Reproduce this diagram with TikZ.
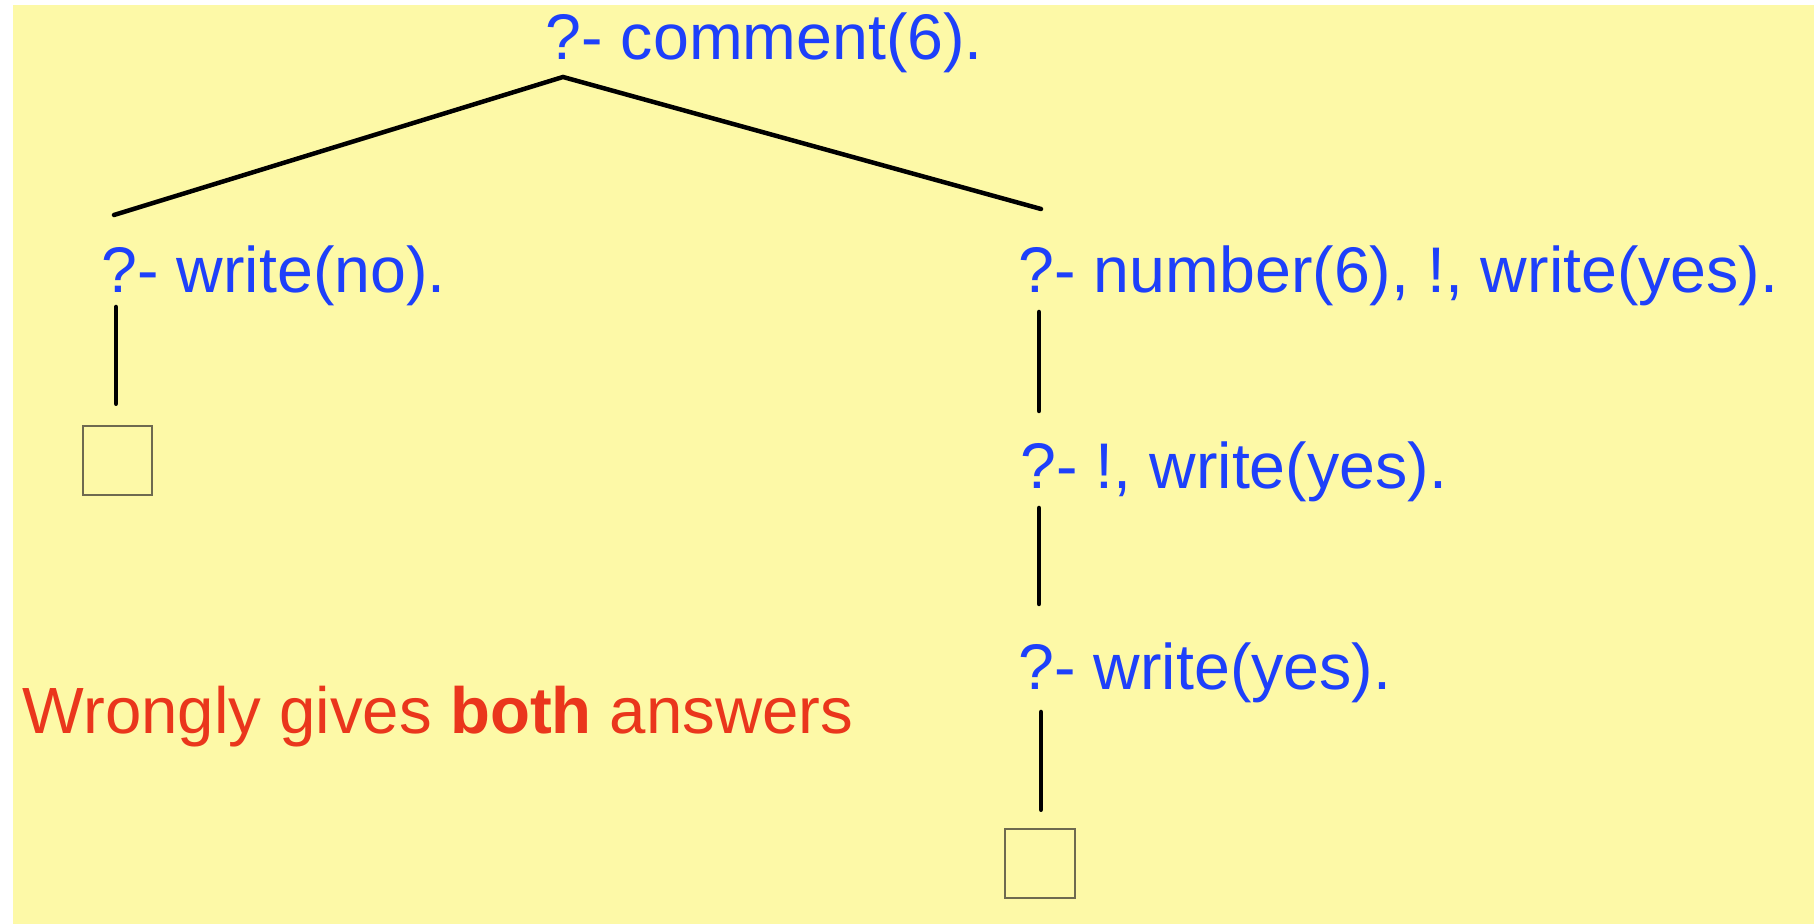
\documentclass[tikz,border=0pt]{standalone}
\usepackage{fontspec}
\setmainfont{Liberation Sans}

\definecolor{goalblue}{RGB}{30,64,250}
\definecolor{notered}{RGB}{234,54,28}
\definecolor{paper}{RGB}{253,249,167}
\definecolor{boxgray}{RGB}{110,106,80}

\begin{document}
\begin{tikzpicture}[x=0.1mm, y=-0.1mm,
    goal/.style={anchor=base west, inner sep=0pt, text=goalblue,
      font=\fontsize{18.35pt}{22pt}\selectfont},
    branch/.style={line width=0.45mm, line cap=round},
    leafbox/.style={draw=boxgray, line width=0.2mm, minimum size=6.95mm, inner sep=0pt}]
  \useasboundingbox (0,0) rectangle (1814,924);
  % Hintergrund
  \fill[paper] (13,5) rectangle (1814,924);

  % Ziele
  \node[goal] (root) at (545,60) {?- comment(6).};
  \node[goal] (nogoal) at (101,293) {?- write(no).};
  \node[goal] (numgoal) at (1018,293) {?- number(6), !, write(yes).};
  \node[goal] (cutgoal) at (1020,489) {?- !, write(yes).};
  \node[goal] (yesgoal) at (1018,690) {?- write(yes).};

  % leere Klauseln
  \node[leafbox] (noleaf) at (117.5,460.5) {};
  \node[leafbox] (yesleaf) at (1040,863.5) {};

  % Endpunkte der Kanten
  \coordinate (apex) at (563,77);
  \coordinate (nohead) at (114,215);
  \coordinate (numhead) at (1041,209);
  \coordinate (nofoot) at (116,307);
  \coordinate (numfoot) at (1039,312);
  \coordinate (cuthead) at (1039,411);
  \coordinate (cutfoot) at (1039,508);
  \coordinate (yeshead) at (1039,604);
  \coordinate (yesfoot) at (1041,712);

  % Kanten
  \draw[branch] (nohead) -- (apex) -- (numhead);
  \draw[branch] (nofoot) -- ([yshift=2.1mm]noleaf.north -| nofoot);
  \draw[branch] (numfoot) -- (cuthead);
  \draw[branch] (cutfoot) -- (yeshead);
  \draw[branch] (yesfoot) -- ([yshift=1.8mm]yesleaf.north -| yesfoot);

  % Hinweis
  \node[anchor=base west, inner sep=0pt, text=notered,
    font=\fontsize{18.6pt}{22pt}\selectfont] (note) at (22,734)
    {Wrongly gives \textbf{both} answers};
\end{tikzpicture}
\end{document}
